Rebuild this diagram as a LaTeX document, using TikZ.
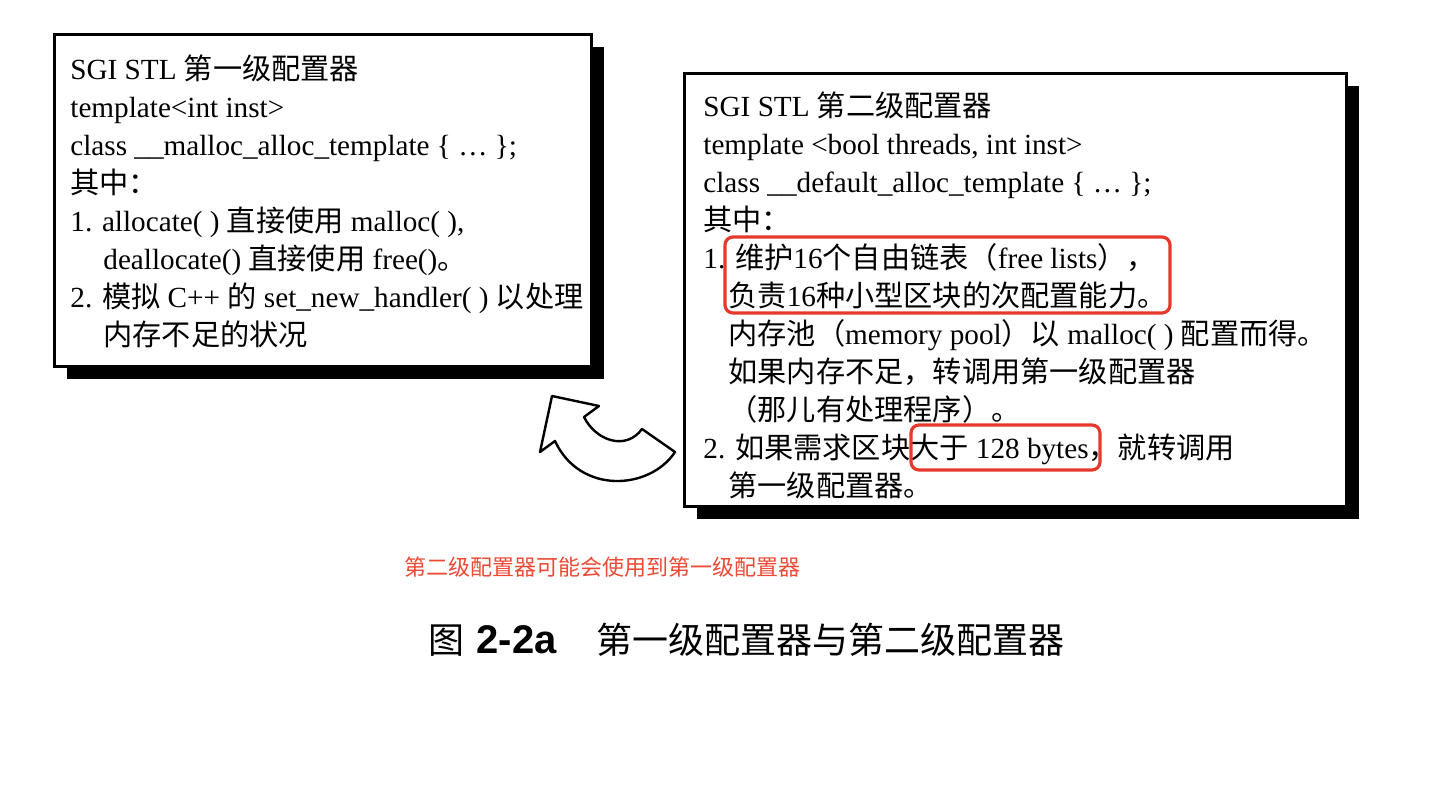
\documentclass[tikz,border=0pt]{standalone}
\usepackage{fontspec}
\setmainfont{Liberation Serif}
\newfontfamily\zhfont{Noto Sans CJK SC}
\newfontfamily\capsans{Liberation Sans}
\usetikzlibrary{positioning, shadows}
\usepackage{xcolor}
\definecolor{markred}{HTML}{E5392B}
\definecolor{notered}{HTML}{EC4A35}
\newcommand{\zh}[1]{{\zhfont #1}}
\newcommand{\indL}{\hspace*{16.5pt}}
\newcommand{\indR}{\hspace*{12.5pt}}

\begin{document}
\begin{tikzpicture}[
    x=0.5pt, y=-0.5pt,
    frame/.style={
        rectangle, draw, line width=1.3pt, fill=white, inner sep=0pt,
        drop shadow={shadow xshift=6.5pt, shadow yshift=-6.5pt,
            fill=black, opacity=1},
    },
    txt/.style={anchor=north west, inner sep=0pt, align=left,
        font=\fontsize{14.6pt}{19pt}\selectfont},
    hl/.style={rectangle, rounded corners=4pt, draw=markred,
        line width=1.6pt, inner sep=0pt},
    uturn/.style={draw, line width=1.2pt, line join=round, fill=white},
]

\fill[white] (0,0) rectangle (1434,806);
\useasboundingbox (0,0) rectangle (1434,806);

% Left: first level allocator
\node[frame, anchor=north west, minimum width=268.5pt, minimum height=166pt]
    (first) at (53,33) {};
\node[txt] (firsttxt) at ([xshift=8.5pt, yshift=-10.5pt]first.north west)
    {SGI STL \zh{第一级配置器}\\
     template<int inst>\\
     class \_\_malloc\_alloc\_template \{ \ldots\ \};\\
     \zh{其中：}\\
     1. allocate( ) \zh{直接使用} malloc( ),\\
     \indL deallocate() \zh{直接使用} free()\zh{。}\\
     2. \zh{模拟} C++ \zh{的} set\_new\_handler( ) \zh{以处理}\\
     \indL\zh{内存不足的状况}};

% Right: second level allocator
\node[frame, anchor=north west, minimum width=331pt, minimum height=216.5pt]
    (second) at (683,72) {};
\node[txt] (secondtxt) at ([xshift=10pt, yshift=-9.5pt]second.north west)
    {SGI STL \zh{第二级配置器}\\
     template <bool threads, int inst>\\
     class \_\_default\_alloc\_template \{ \ldots\ \};\\
     \zh{其中：}\\
     1. \zh{维护}16\zh{个自由链表（}free lists\zh{），}\\
     \indR\zh{负责}16\zh{种小型区块的次配置能力。}\\
     \indR\zh{内存池（}memory pool\zh{）以} malloc( ) \zh{配置而得。}\\
     \indR\zh{如果内存不足，转调用第一级配置器}\\
     \indR\zh{（那儿有处理程序）。}\\
     2. \zh{如果需求区块大于} 128 bytes\zh{，就转调用}\\
     \indR\zh{第一级配置器。}};

% Red marks
\node[hl, minimum width=222.5pt, minimum height=38pt] (markA) at (947.5,275) {};
\node[hl, minimum width=94.5pt, minimum height=22.5pt] (markB) at (1005.5,447.5) {};

% --- Curved arrow back to the first level ---
\draw[uturn] (552,396) -- (599,406) -- (584,417)
    .. controls (596,441) and (626,451) .. (642,429)
    -- (675,452)
    .. controls (650,490) and (580,495) .. (555,441)
    -- (540,452) -- cycle;

% Notes
\node[text=notered, font=\zhfont\fontsize{11pt}{13pt}\selectfont] (note)
    at (602.5,567) {第二级配置器可能会使用到第一级配置器};
\node[font=\fontsize{18pt}{20pt}\selectfont] (caption) at (746.5,640)
    {\zh{图}\hspace{6pt}{\capsans\bfseries\fontsize{20pt}{20pt}\selectfont 2-2a}\hspace{20pt}\zh{第一级配置器与第二级配置器}};

\end{tikzpicture}
\end{document}
